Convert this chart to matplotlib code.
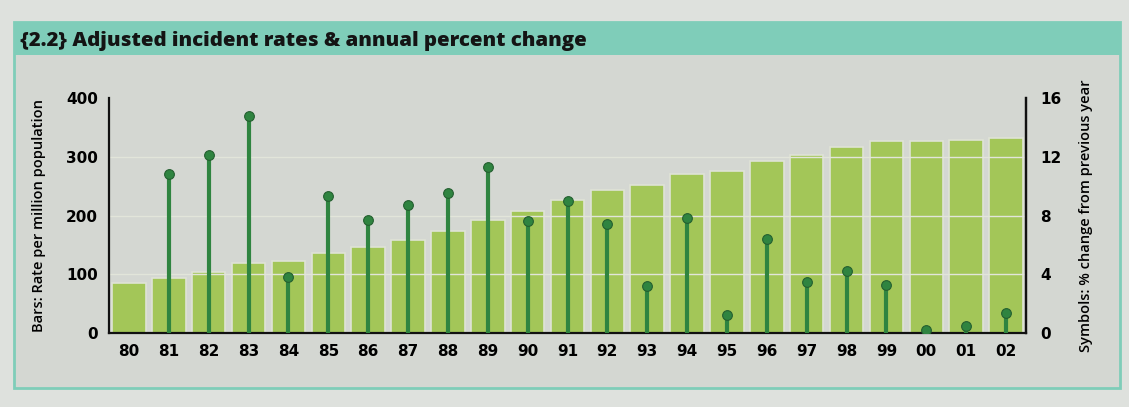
import matplotlib
matplotlib.use("Agg")
import matplotlib.pyplot as plt
from matplotlib.patches import Rectangle
import numpy as np

# years shown on the x axis
years = ["80", "81", "82", "83", "84", "85", "86", "87", "88", "89", "90", "91",
         "92", "93", "94", "95", "96", "97", "98", "99", "00", "01", "02"]
# bars: adjusted incident rate per million population
rates = [85, 94, 104, 119, 122, 136, 146, 158, 173, 193, 208, 226,
         244, 252, 270, 275, 293, 303, 316, 326, 326, 328, 332]
# symbols: % change from previous year (no value for the first year)
pct_change = [None, 10.8, 12.1, 14.8, 3.8, 9.3, 7.7, 8.7, 9.5, 11.3, 7.6, 9.0,
              7.4, 3.2, 7.8, 1.2, 6.4, 3.5, 4.2, 3.3, 0.2, 0.45, 1.35]

left_ticks = [0, 100, 200, 300, 400]
right_ticks = [0, 4, 8, 12, 16]

BG = "#d4d7d2"
OUTER = "#dee1dd"
TEAL = "#7fcdb9"
BAR = "#a3c658"
STEM = "#2f8440"
GRID = "#e2e5da"

plt.rcParams['font.family'] = ['Open Sans', 'DejaVu Sans']

fig = plt.figure(figsize=(11.29, 4.07), dpi=100)
fig.patch.set_facecolor(OUTER)

# frame: panel background, teal title band, teal border (behind the axes)
fig.patches.append(Rectangle((14 / 1129, 1 - 388 / 407), 1106 / 1129, 366 / 407,
                             transform=fig.transFigure, facecolor=BG,
                             edgecolor=TEAL, linewidth=2, zorder=-10))
fig.patches.append(Rectangle((14 / 1129, 1 - 55 / 407), 1106 / 1129, 33 / 407,
                             transform=fig.transFigure, facecolor=TEAL,
                             edgecolor="none", zorder=-9))
fig.text(20 / 1129, 1 - 41 / 407, "{2.2} Adjusted incident rates & annual percent change",
         fontsize=14.7, fontweight="heavy", color="#141414", va="center", ha="left")

tick_font = dict(family="DejaVu Sans", weight="bold", size=11)

ax = fig.add_axes([109 / 1129, 1 - 333 / 407, 917 / 1129, 235 / 407])
ax.set_facecolor("none")
x = np.arange(len(years))
ax.bar(x, rates, width=0.84, color=BAR, edgecolor="#dfe3d6", linewidth=1.2, zorder=1)
for v in left_ticks[1:-1]:
    ax.axhline(v, color=GRID, linewidth=1, zorder=2)
ax.set_xlim(-0.5, len(years) - 0.5)
ax.set_ylim(0, 400)
ax.set_yticks(left_ticks)
ax.set_xticks(x)
ax.set_xticklabels(years)
ax.tick_params(length=0, pad=8)
for lab in ax.get_xticklabels() + ax.get_yticklabels():
    lab.set_fontproperties(tick_font)
ax.spines["top"].set_visible(False)
for s in ["left", "right", "bottom"]:
    ax.spines[s].set_linewidth(1.6)
    ax.spines[s].set_color("#111111")
ax.set_ylabel("Bars: Rate per million population", fontsize=10.5,
              fontweight="semibold", labelpad=14)

ax2 = ax.twinx()
ax2.set_ylim(0, 16)
ax2.set_yticks(right_ticks)
ax2.tick_params(length=0, pad=10)
for lab in ax2.get_yticklabels():
    lab.set_fontproperties(tick_font)
for s in ["top", "left", "bottom"]:
    ax2.spines[s].set_visible(False)
ax2.spines["right"].set_linewidth(1.6)
ax2.spines["right"].set_color("#111111")
ax2.set_ylabel("Symbols: % change from previous year", fontsize=10.5,
               fontweight="semibold", labelpad=13)

px = [i for i, v in enumerate(pct_change) if v is not None]
pv = [v for v in pct_change if v is not None]
ax2.vlines(px, 0, pv, color=STEM, linewidth=3, zorder=3)
ax2.plot(px, pv, "o", color=STEM, markersize=7, markeredgecolor="#245f30",
         markeredgewidth=0.8, zorder=4)

fig.savefig("out.png", dpi=100, facecolor=fig.get_facecolor())
